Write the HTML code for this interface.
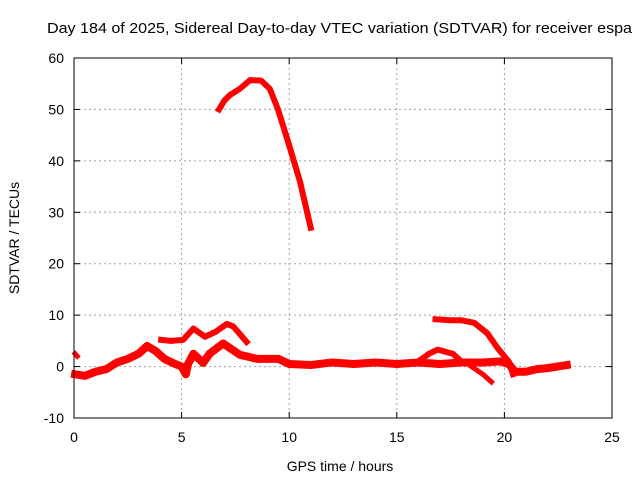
<!DOCTYPE html>
<html><head><meta charset="utf-8"><style>
body{margin:0;background:#fff}
svg{display:block;font-family:"Liberation Sans",sans-serif}
</style></head><body>
<svg id="c" width="640" height="480">
<text x="47" y="33" font-size="15" textLength="585" lengthAdjust="spacingAndGlyphs">Day 184 of 2025, Sidereal Day-to-day VTEC variation (SDTVAR) for receiver espa</text>
<g id="grid"></g>
<g id="series"></g>
<rect x="74" y="58" width="538" height="360" fill="none" stroke="#000"/>
<g id="ticks"></g>
<text x="340" y="471" text-anchor="middle" font-size="14">GPS time / hours</text>
<text transform="translate(19,238) rotate(-90)" text-anchor="middle" font-size="14">SDTVAR / TECUs</text>
</svg>
<script>
const xTicks=[0,5,10,15,20,25];
const yTicks=[-10,0,10,20,30,40,50,60];
const arcSeries=[[6.74,50],[7.0,51.8],[7.25,52.8],[7.7,54],[8.18,55.7],[8.7,55.6],[9.1,54],[9.48,50],[10.0,43],[10.5,36],[11.0,27]];
const upperWave=[[4.05,5.2],[4.5,5],[5.07,5.2],[5.55,7.4],[6.09,5.8],[6.6,6.8],[7.1,8.3],[7.4,7.8],[8.02,4.8]];
const groundSeries=[[0.05,-1.5],[0.5,-1.8],[1,-1],[1.5,-0.5],[2,0.8],[2.5,1.5],[3,2.5],[3.4,4],[3.8,3],[4.2,1.5],[4.7,0.5],[5,0],[5.2,-1.5],[5.3,0.5],[5.55,2.5],[6.0,0.7],[6.3,2.5],[6.93,4.5],[7.7,2.3],[8.5,1.5],[9.5,1.5],[10,0.5],[11,0.3],[12,0.8],[13,0.5],[14,0.8],[15,0.5],[16,0.8],[17,0.5],[18,0.8],[19,0.8],[19.8,1],[20.2,0.5],[20.5,-1],[21,-1],[21.5,-0.5],[22,-0.3],[22.9,0.3]];
const spikeSeries=[[0.05,2.5],[0.15,2]];
const decaySeries=[[16.8,9.2],[17.5,9],[18,9],[18.6,8.5],[19.2,6.5],[19.7,3.5],[20.2,1],[20.4,-1.5]];
const humpSeries=[[16,1],[16.5,2.5],[16.9,3.3],[17.6,2.5],[18,1]];
const dropSeries=[[18.3,0.5],[19,-1.5],[19.4,-3]];
const X=h=>74+h*538/25, Y=v=>418-(v+10)*360/70;
const NS="http://www.w3.org/2000/svg";
const grid=document.getElementById('grid'),ticks=document.getElementById('ticks'),ser=document.getElementById('series');
function mk(p,tag,a){const e=document.createElementNS(NS,tag);for(const k in a)e.setAttribute(k,a[k]);p.appendChild(e);return e;}
xTicks.forEach(t=>{const x=X(t);
 if(t>0&&t<25){const g=mk(grid,'line',{x1:x,x2:x,y1:58,y2:418,stroke:'#a0a0a0','stroke-dasharray':'2,3'});}
 mk(ticks,'line',{x1:x,x2:x,y1:418,y2:412,stroke:'#000'});mk(ticks,'line',{x1:x,x2:x,y1:58,y2:64,stroke:'#000'});
 const l=mk(ticks,'text',{x:x,y:442,'text-anchor':'middle','font-size':14});l.textContent=t;
 });
yTicks.forEach(t=>{const y=Y(t);
 if(t>-10&&t<60){const g=mk(grid,'line',{x1:74,x2:612,y1:y,y2:y,stroke:'#a0a0a0','stroke-dasharray':'2,3'});}
 mk(ticks,'line',{x1:74,x2:80,y1:y,y2:y,stroke:'#000'});mk(ticks,'line',{x1:612,x2:606,y1:y,y2:y,stroke:'#000'});
 const l=mk(ticks,'text',{x:64,y:y+5,'text-anchor':'end','font-size':14});l.textContent=t;
 });
[[arcSeries,'arc-series',6],[upperWave,'upper-wave-series',6],[groundSeries,'ground-series',8],[spikeSeries,'spike-series',5],[decaySeries,'decay-series',6],[humpSeries,'hump-series',6],[dropSeries,'drop-series',5]].forEach(([d,n,w])=>{
 const p=mk(ser,'polyline',{points:d.map(q=>X(q[0])+','+Y(q[1])).join(' '),fill:'none',stroke:'#ff0000','stroke-width':w,'stroke-linejoin':'round','stroke-linecap':'square'});
 });
</script>
</body></html>
